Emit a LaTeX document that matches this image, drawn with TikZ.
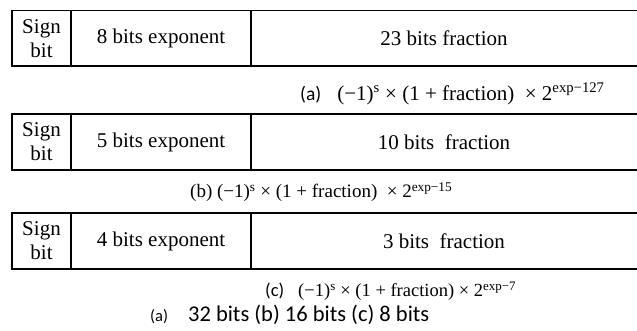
\documentclass[tikz,border=0pt]{standalone}
\usepackage{fontspec}
\setmainfont{Liberation Serif}
\newfontfamily\calib{Carlito}
\newcommand\sups[1]{\textsuperscript{#1}}
\begin{document}
\begin{tikzpicture}[x=1pt,y=-1pt,
  cell/.style={draw,line width=1.1pt,inner sep=0pt,align=center,
    font=\fontsize{21}{24}\selectfont},
  celltext/.style={inner sep=0pt,font=\fontsize{21}{24}\selectfont},
  formula/.style={anchor=west,inner sep=0pt,font=\fontsize{18.5}{22}\selectfont},
  capt/.style={anchor=west,inner sep=0pt,font=\calib\fontsize{22.5}{26}\selectfont}]
\useasboundingbox (0,0) rectangle (637,330);
% table a
\node[cell,minimum width=59pt,minimum height=55.5pt] (sa) at (41.5,38.25) {Sign\\bit};
\node[cell,minimum width=180pt,minimum height=55.5pt] (ea) at (161,38.25) {8 bits exponent};
\node[cell,minimum width=392pt,minimum height=55.5pt] (fa) at (447,38.25) {};
\node[celltext] (ta) at (444,38.25) {23 bits fraction};
\node[formula,font=\fontsize{21}{24}\selectfont] (xa) at (300,94) {{\calib\fontsize{19.5}{22}\selectfont (a)}\hspace{16pt}(−1)\sups{s} × (1 + fraction)\ \ × 2\sups{exp−127}};
% table b
\node[cell,minimum width=59pt,minimum height=56pt] (sb) at (41.5,142) {Sign\\bit};
\node[cell,minimum width=180pt,minimum height=56pt] (eb) at (161,142) {5 bits exponent};
\node[cell,minimum width=392pt,minimum height=56pt] (fb) at (447,142) {};
\node[celltext] (tb) at (444,142) {10 bits\ \ fraction};
\node[formula,font=\fontsize{19}{22}\selectfont] (xb) at (190,192) {(b) (−1)\sups{s} × (1 + fraction)\ \ × 2\sups{exp−15}};
% table c
\node[cell,minimum width=59pt,minimum height=56pt] (sc) at (41.5,241) {Sign\\bit};
\node[cell,minimum width=180pt,minimum height=56pt] (ec) at (161,241) {4 bits exponent};
\node[cell,minimum width=392pt,minimum height=56pt] (fc) at (447,241) {};
\node[celltext] (tc) at (444,241) {3 bits\ \ fraction};
\node[formula] (xc) at (265,291) {{\calib (c)}\hspace{14pt}(−1)\sups{s} × (1 + fraction) × 2\sups{exp−7}};
% caption
\node[capt] (cap) at (150,315) {{\fontsize{16.5}{20}\selectfont (a)}\hspace{20pt}32 bits (b) 16 bits (c) 8 bits};
\end{tikzpicture}
\end{document}
